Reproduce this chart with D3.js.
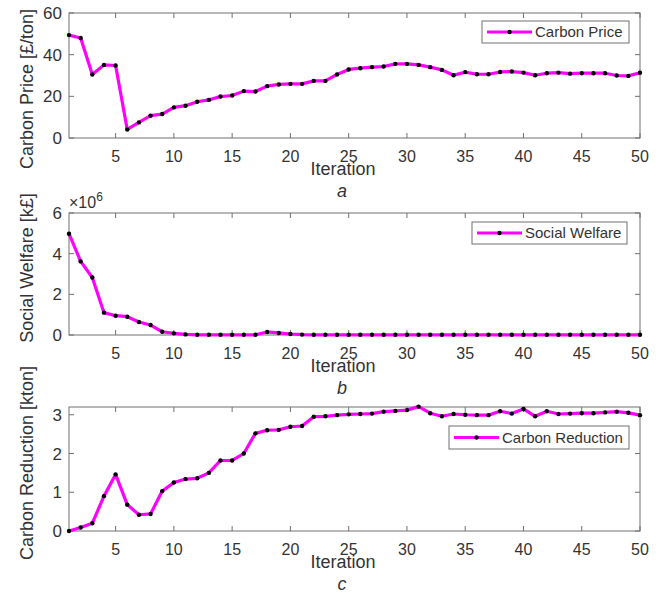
<!DOCTYPE html>
<head>
  <meta charset="utf-8">
  <script src="https://d3js.org/d3.v7.min.js"></script>
  <style>
    body { margin:0; background:#fff; }
    text { font-family: "Liberation Sans", Arial, sans-serif; fill:#333; }
  </style>
</head>

<body>
  <script>
    var width = 672;
    var height = 594;

    var iterations = d3.range(1, 51);

    var carbonPrice = [49.4, 48, 30.5, 35.1, 34.8, 4.1, 7.5, 10.7, 11.5, 14.7,
      15.5, 17.4, 18.3, 19.9, 20.4, 22.5, 22.3, 24.9, 25.7, 26,
      26, 27.4, 27.4, 30.5, 32.9, 33.5, 34, 34.3, 35.6, 35.6,
      35.1, 34, 32.7, 30.1, 31.6, 30.6, 30.6, 31.7, 31.9, 31.4,
      30.1, 31.1, 31.4, 30.9, 31.1, 31.1, 31.1, 30, 29.8, 31.3];

    // in units of 1e6 k£
    var socialWelfare = [4.98, 3.62, 2.83, 1.1, 0.95, 0.9, 0.64, 0.49, 0.16, 0.08,
      0.03, 0.01, 0.01, 0.01, 0.01, 0.01, 0.01, 0.15, 0.1, 0.05,
      0.02, 0.01, 0.01, 0.01, 0.01, 0.01, 0.01, 0.01, 0.01, 0.01,
      0.01, 0.01, 0.01, 0.01, 0.01, 0.01, 0.01, 0.01, 0.01, 0.01,
      0.01, 0.01, 0.01, 0.01, 0.01, 0.01, 0.01, 0.01, 0.01, 0.01];

    var carbonReduction = [0, 0.09, 0.2, 0.9, 1.46, 0.68, 0.42, 0.44, 1.03, 1.25,
      1.34, 1.36, 1.5, 1.82, 1.82, 2.0, 2.52, 2.6, 2.61, 2.69,
      2.71, 2.95, 2.96, 2.99, 3.01, 3.02, 3.03, 3.08, 3.1, 3.12,
      3.21, 3.04, 2.96, 3.02, 3.0, 2.99, 2.99, 3.09, 3.03, 3.15,
      2.96, 3.09, 3.02, 3.03, 3.04, 3.04, 3.06, 3.08, 3.05, 2.99];

    var xTicks = [5, 10, 15, 20, 25, 30, 35, 40, 45, 50];

    var panels = [
      { values: carbonPrice, yDomain: [0, 60], yTicks: [0, 20, 40, 60],
        yLabel: "Carbon Price [£/ton]", legend: "Carbon Price", letter: "a",
        top: 13, bottom: 138, yLabelY: 89, legendBox: [482, 21, 147, 22] },
      { values: socialWelfare, yDomain: [0, 6], yTicks: [0, 2, 4, 6],
        yLabel: "Social Welfare [k£]", legend: "Social Welfare", letter: "b",
        top: 213, bottom: 335, yLabelY: 268, legendBox: [472, 222, 155, 22], exponent: true },
      { values: carbonReduction, yDomain: [0, 3.2], yTicks: [0, 1, 2, 3],
        yLabel: "Carbon Reduction [kton]", legend: "Carbon Reduction", letter: "c",
        top: 407, bottom: 531, yLabelY: 463, legendBox: [449, 426, 180, 23] }
    ];

    var left = 69, right = 640;
    var axisColor = "#707070";

    var svg = d3.select("body")
      .append("svg")
      .attr("width", width)
      .attr("height", height);

    var x = d3.scaleLinear().domain([1, 50]).range([left, right]);

    panels.forEach(function(p) {
      var y = d3.scaleLinear().domain(p.yDomain).range([p.bottom, p.top]);
      var g = svg.append("g");

      // ticks (inward, on all four sides)
      var tickLen = 5;
      xTicks.forEach(function(t) {
        g.append("line").attr("x1", x(t)).attr("x2", x(t))
          .attr("y1", p.bottom).attr("y2", p.bottom - tickLen)
          .attr("stroke", axisColor);
        g.append("line").attr("x1", x(t)).attr("x2", x(t))
          .attr("y1", p.top).attr("y2", p.top + tickLen)
          .attr("stroke", axisColor);
        g.append("text").attr("x", x(t)).attr("y", p.bottom + 24)
          .attr("text-anchor", "middle").style("font-size", "16px").text(t);
      });
      p.yTicks.forEach(function(t) {
        g.append("line").attr("x1", left).attr("x2", left + tickLen)
          .attr("y1", y(t)).attr("y2", y(t)).attr("stroke", axisColor);
        g.append("line").attr("x1", right).attr("x2", right - tickLen)
          .attr("y1", y(t)).attr("y2", y(t)).attr("stroke", axisColor);
        g.append("text").attr("x", left - 7).attr("y", y(t) + 6)
          .attr("text-anchor", "end").style("font-size", "17px").text(t);
      });

      g.append("rect").attr("x", left).attr("y", p.top)
        .attr("width", right - left).attr("height", p.bottom - p.top)
        .attr("fill", "none").attr("stroke", axisColor).attr("stroke-width", 1);

      if (p.exponent) {
        var ex = g.append("text").attr("x", left).attr("y", p.top - 5)
          .style("font-size", "16px");
        ex.append("tspan").text("×10");
        ex.append("tspan").attr("dy", -7).style("font-size", "12px").text("6");
      }

      // axis labels
      g.append("text").attr("x", 343).attr("y", p.bottom + 37)
        .attr("text-anchor", "middle").style("font-size", "18px").text("Iteration");
      g.append("text").attr("x", 342).attr("y", p.bottom + 59)
        .attr("text-anchor", "middle").style("font-size", "18px")
        .style("font-style", "italic").text(p.letter);
      g.append("text")
        .attr("transform", "translate(33," + p.yLabelY + ") rotate(-90)")
        .attr("text-anchor", "middle").style("font-size", "18px").text(p.yLabel);

      // series
      var line = d3.line()
        .x(function(d, i) { return x(iterations[i]); })
        .y(function(d) { return y(d); });

      g.append("path").datum(p.values)
        .attr("d", line).attr("fill", "none")
        .attr("stroke", "#ff00ff").attr("stroke-width", 3.2)
        .attr("stroke-linejoin", "round");

      g.selectAll(".dot").data(p.values).enter()
        .append("circle").attr("class", "dot")
        .attr("cx", function(d, i) { return x(iterations[i]); })
        .attr("cy", function(d) { return y(d); })
        .attr("r", 2.2).attr("fill", "#000");

      // legend
      var lb = p.legendBox;
      var lg = g.append("g");
      lg.append("rect").attr("x", lb[0]).attr("y", lb[1])
        .attr("width", lb[2]).attr("height", lb[3])
        .attr("fill", "#fff").attr("stroke", axisColor);
      var cy = lb[1] + lb[3] / 2;
      lg.append("line").attr("x1", lb[0] + 5).attr("x2", lb[0] + 50)
        .attr("y1", cy).attr("y2", cy)
        .attr("stroke", "#ff00ff").attr("stroke-width", 3.2);
      lg.append("circle").attr("cx", lb[0] + 27.5).attr("cy", cy)
        .attr("r", 2.2).attr("fill", "#000");
      lg.append("text").attr("x", lb[0] + 53).attr("y", cy + 5)
        .style("font-size", "15px").text(p.legend);
    });
  </script>
</body>
